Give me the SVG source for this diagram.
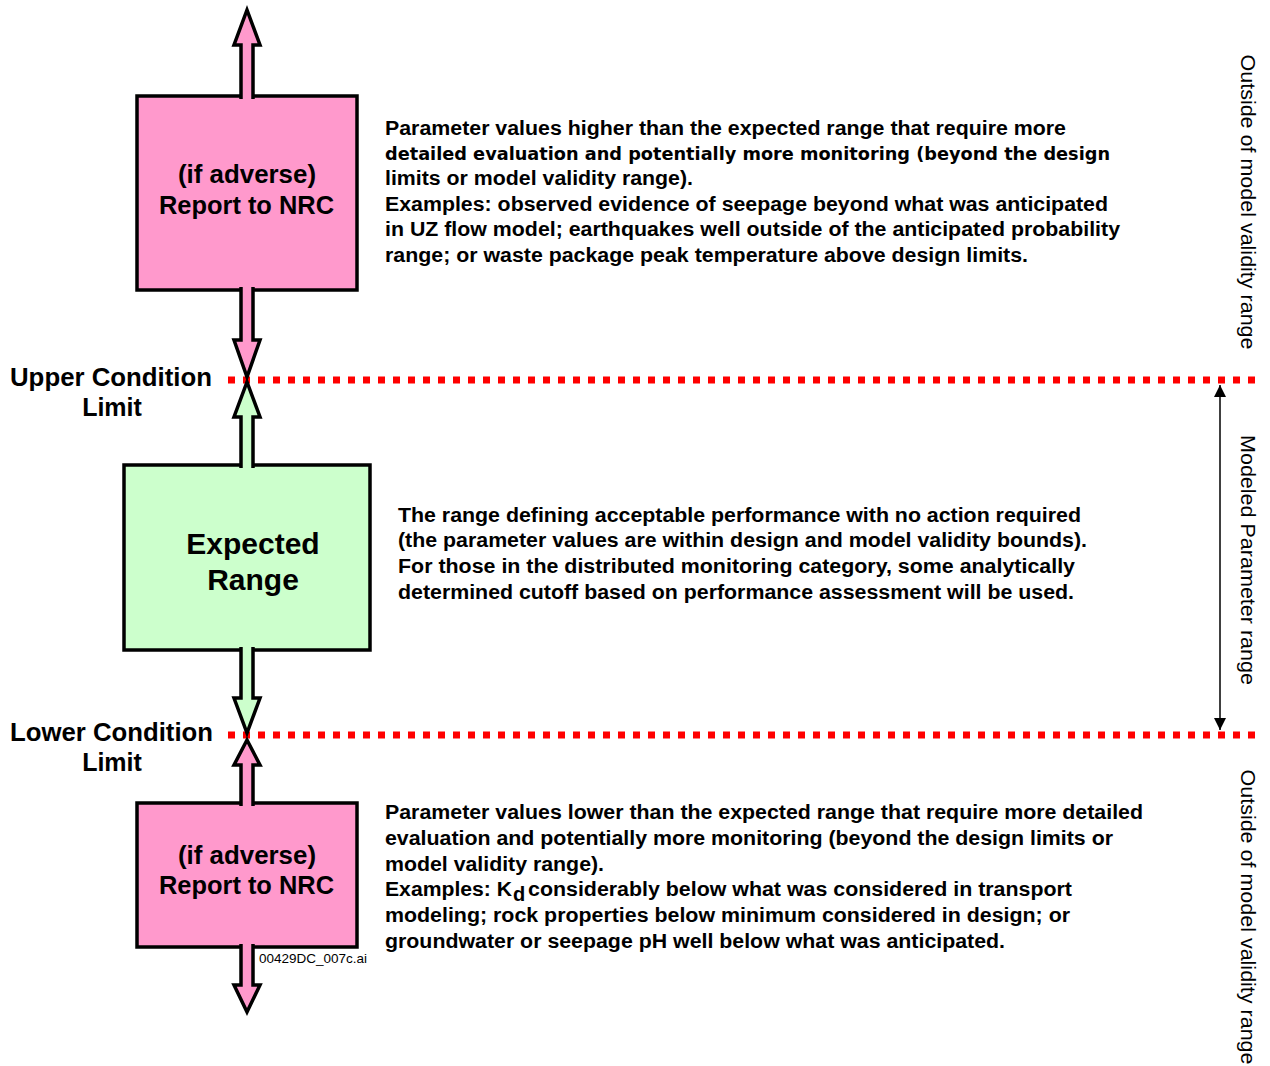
<svg xmlns="http://www.w3.org/2000/svg" width="1270" height="1066" viewBox="0 0 1270 1066">
  <style>
    .box { stroke: #000; stroke-width: 3.5; }
    .pink { fill: #FF99CC; }
    .green { fill: #CCFFCC; }
    .arrow { stroke: #000; stroke-width: 3.5; stroke-linejoin: miter; stroke-miterlimit: 10; }
    .limit { stroke: #FF0000; stroke-width: 7; stroke-dasharray: 7 8; fill: none; }
    .lbl { font-family: "Liberation Sans", Arial, sans-serif; font-weight: bold; fill: #000; }
    .body { font-family: "Liberation Sans", Arial, sans-serif; font-weight: bold; font-size: 20px; fill: #000; }
    .wide { font-family: "DejaVu Sans", Verdana, sans-serif; font-weight: bold; font-size: 17px; fill: #000; }
    .side { font-family: "Liberation Sans", Arial, sans-serif; font-size: 20px; fill: #000; }
  </style>
  <defs>
    <marker id="tip" viewBox="0 0 12 12" refX="12" refY="6" markerWidth="12" markerHeight="12" markerUnits="userSpaceOnUse" orient="auto-start-reverse">
      <path d="M0,0 L12,6 L0,12 Z" fill="#000"/>
    </marker>
  </defs>

  <!-- condition limit lines -->
  <g id="limits">
    <line class="limit" x1="228" y1="380" x2="1260" y2="380"/>
    <line class="limit" x1="228" y1="735" x2="1260" y2="735"/>
    <text class="lbl" font-size="25" x="10" y="386" textLength="202" lengthAdjust="spacingAndGlyphs">Upper Condition</text>
    <text class="lbl" font-size="25" x="112" y="416" text-anchor="middle">Limit</text>
    <text class="lbl" font-size="25" x="10" y="741" textLength="203" lengthAdjust="spacingAndGlyphs">Lower Condition</text>
    <text class="lbl" font-size="25" x="112" y="771" text-anchor="middle">Limit</text>
  </g>

  <!-- boxes -->
  <g id="upper-box">
    <rect class="box pink" x="137" y="96" width="220" height="194"/>
    <text class="lbl" font-size="25" x="178" y="183" textLength="138" lengthAdjust="spacingAndGlyphs">(if adverse)</text>
    <text class="lbl" font-size="25" x="159" y="214" textLength="175" lengthAdjust="spacingAndGlyphs">Report to NRC</text>
  </g>
  <g id="expected-box">
    <rect class="box green" x="124" y="465" width="246" height="185"/>
    <text class="lbl" font-size="30" x="253" y="554" text-anchor="middle">Expected</text>
    <text class="lbl" font-size="30" x="253" y="590" text-anchor="middle">Range</text>
  </g>
  <g id="lower-box">
    <rect class="box pink" x="137" y="803" width="220" height="144"/>
    <text class="lbl" font-size="25" x="178" y="864" textLength="138" lengthAdjust="spacingAndGlyphs">(if adverse)</text>
    <text class="lbl" font-size="25" x="159" y="894" textLength="175" lengthAdjust="spacingAndGlyphs">Report to NRC</text>
  </g>

  <!-- block arrows -->
  <g id="connectors">
    <path class="arrow pink" d="M241,99 L241,45 L234,45 L247,10 L260,45 L253,45 L253,99"/>
    <path class="arrow pink" d="M241,287 L241,340 L234,340 L247,377 L260,340 L253,340 L253,287"/>
    <path class="arrow green" d="M241,468 L241,417 L234,417 L247,382 L260,417 L253,417 L253,468"/>
    <path class="arrow green" d="M241,647 L241,698 L234,698 L247,733 L260,698 L253,698 L253,647"/>
    <path class="arrow pink" d="M241,806 L241,765 L234,765 L247,740 L260,765 L253,765 L253,806"/>
    <path class="arrow pink" d="M241,944 L241,985 L234,985 L247,1012 L260,985 L253,985 L253,944"/>
    <line x1="1220" y1="385" x2="1220" y2="730" stroke="#000" stroke-width="1.5" marker-start="url(#tip)" marker-end="url(#tip)"/>
  </g>

  <!-- descriptions -->
  <g id="upper-text">
    <text class="body" x="385" y="135" textLength="681" lengthAdjust="spacingAndGlyphs">Parameter values higher than the expected range that require more</text>
    <text class="wide" x="385" y="160" textLength="725" lengthAdjust="spacingAndGlyphs">detailed evaluation and potentially more monitoring (beyond the design</text>
    <text class="body" x="385" y="185" textLength="308" lengthAdjust="spacingAndGlyphs">limits or model validity range).</text>
    <text class="body" x="385" y="211" textLength="723" lengthAdjust="spacingAndGlyphs">Examples: observed evidence of seepage beyond what was anticipated</text>
    <text class="body" x="385" y="236" textLength="735" lengthAdjust="spacingAndGlyphs">in UZ flow model; earthquakes well outside of the anticipated probability</text>
    <text class="body" x="385" y="262" textLength="643" lengthAdjust="spacingAndGlyphs">range; or waste package peak temperature above design limits.</text>
  </g>
  <g id="expected-text">
    <text class="body" x="398" y="522" textLength="683" lengthAdjust="spacingAndGlyphs">The range defining acceptable performance with no action required</text>
    <text class="body" x="398" y="547" textLength="689" lengthAdjust="spacingAndGlyphs">(the parameter values are within design and model validity bounds).</text>
    <text class="body" x="398" y="573" textLength="677" lengthAdjust="spacingAndGlyphs">For those in the distributed monitoring category, some analytically</text>
    <text class="body" x="398" y="599" textLength="676" lengthAdjust="spacingAndGlyphs">determined cutoff based on performance assessment will be used.</text>
  </g>
  <g id="lower-text">
    <text class="body" x="385" y="819" textLength="758" lengthAdjust="spacingAndGlyphs">Parameter values lower than the expected range that require more detailed</text>
    <text class="body" x="385" y="845" textLength="728" lengthAdjust="spacingAndGlyphs">evaluation and potentially more monitoring (beyond the design limits or</text>
    <text class="body" x="385" y="871" textLength="219" lengthAdjust="spacingAndGlyphs">model validity range).</text>
    <text class="body" x="385" y="896" textLength="127" lengthAdjust="spacingAndGlyphs">Examples: K</text>
    <text class="body" x="513" y="901" font-size="15">d</text>
    <text class="body" x="528" y="896" textLength="544" lengthAdjust="spacingAndGlyphs">considerably below what was considered in transport</text>
    <text class="body" x="385" y="922" textLength="685" lengthAdjust="spacingAndGlyphs">modeling; rock properties below minimum considered in design; or</text>
    <text class="body" x="385" y="948" textLength="620" lengthAdjust="spacingAndGlyphs">groundwater or seepage pH well below what was anticipated.</text>
  </g>

  <!-- side labels -->
  <g id="side-labels">
    <text class="side" transform="translate(1241,202) rotate(90)" text-anchor="middle" textLength="295" lengthAdjust="spacingAndGlyphs">Outside of model validity range</text>
    <text class="side" transform="translate(1241,560) rotate(90)" text-anchor="middle" textLength="250" lengthAdjust="spacingAndGlyphs">Modeled Parameter range</text>
    <text class="side" transform="translate(1241,917) rotate(90)" text-anchor="middle" textLength="295" lengthAdjust="spacingAndGlyphs">Outside of model validity range</text>
  </g>

  <text x="259" y="963" font-family="Liberation Sans, Arial, sans-serif" font-size="13" fill="#000" textLength="108" lengthAdjust="spacingAndGlyphs">00429DC_007c.ai</text>
</svg>
